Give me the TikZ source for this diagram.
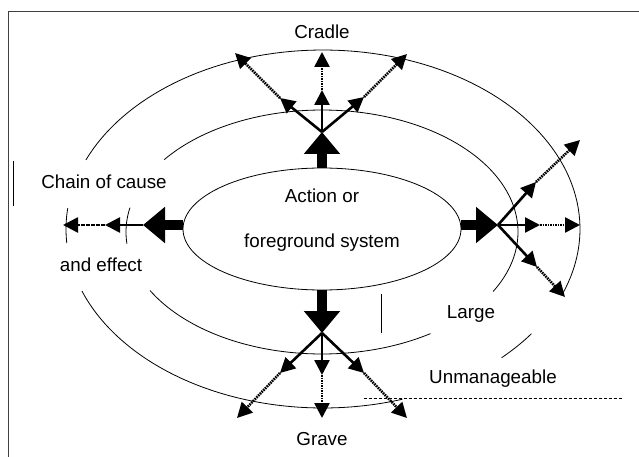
\documentclass[tikz,border=0pt]{standalone}
\usepackage{fontspec}
\setmainfont{Liberation Sans}
\usetikzlibrary{arrows.meta,shapes.geometric}
\tikzset{
  ring/.style={line width=0.8pt},
  thickarr/.style={line width=10pt,-{Triangle[length=22pt,width=35pt]}},
  solidarr/.style={line width=2.6pt,-{Triangle[length=15pt,width=15pt]}},
  dotarr/.style={line width=2.6pt,dash pattern=on 1.6pt off 0.9pt,-{Triangle[length=15pt,width=15pt]}},
  lbl/.style={font=\fontsize{18.8}{22}\selectfont,inner sep=0pt}
}
\begin{document}
\begin{tikzpicture}[x=1pt,y=-1pt]
\useasboundingbox (0,0) rectangle (639,457);
% frame
\draw[line width=1.3pt,black!75] (8.5,457) -- (8.5,11.5) -- (639,11.5);
% central ellipse
\node[ellipse,draw,line width=0.8pt,minimum width=278pt,minimum height=122pt,inner sep=0pt] (sys) at (322,229) {};
\node[lbl] (t1) at (322,196) {Action or};
\node[lbl] (t2) at (322,243) {foreground system};
% middle ring
\draw[ring] plot[domain=216.4:389.2,samples=90,variable=\t] ({322+196*cos(\t)},{232+122*sin(\t)});
\draw[ring] plot[domain=56.4:151.3,samples=60,variable=\t] ({322+196*cos(\t)},{232+122*sin(\t)});
\draw[ring] plot[domain=174.5:191.5,samples=20,variable=\t] ({322+196*cos(\t)},{232+122*sin(\t)});
% outer ring
\draw[ring] plot[domain=202.7:381.5,samples=90,variable=\t] ({323+257*cos(\t)},{229+179*sin(\t)});
\draw[ring] plot[domain=35.8:46,samples=20,variable=\t] ({323+257*cos(\t)},{229+179*sin(\t)});
\draw[ring] plot[domain=72:159.7,samples=60,variable=\t] ({323+257*cos(\t)},{229+179*sin(\t)});
\draw[ring] plot[domain=175.5:186.7,samples=20,variable=\t] ({323+257*cos(\t)},{229+179*sin(\t)});
% small marks
\draw[line width=0.8pt] (381,294) -- (381,333);
\draw[line width=0.8pt] (13,161) -- (13,206);
\draw[line width=0.6pt,dash pattern=on 3pt off 2pt] (364,398) -- (622,398);
% coordinates
\coordinate (tT) at (322,132);
\coordinate (tB) at (322,333);
\coordinate (tL) at (143,225);
\coordinate (tR) at (498,225);
\coordinate (sT) at (322,168);
\coordinate (sB) at (322,290);
\coordinate (sL) at (183,225);
\coordinate (sR) at (461,225);
% thick arrows
\draw[thickarr] (sT) -- (tT);
\draw[thickarr] (sB) -- (tB);
\draw[thickarr] (sL) -- (tL);
\draw[thickarr] (sR) -- (tR);
% top
\coordinate (u1) at (322,90);  \coordinate (u1o) at (322,52);
\coordinate (u2) at (280,98);  \coordinate (u2o) at (235,53);
\coordinate (u3) at (364,97);  \coordinate (u3o) at (407,54);
\draw[solidarr] (tT) -- (u1); \draw[dotarr] (u1) -- (u1o);
\draw[solidarr] (tT) -- (u2); \draw[dotarr] (u2) -- (u2o);
\draw[solidarr] (tT) -- (u3); \draw[dotarr] (u3) -- (u3o);
% bottom
\coordinate (d1) at (322,375); \coordinate (d1o) at (322,418);
\coordinate (d2) at (280,373); \coordinate (d2o) at (237,418);
\coordinate (d3) at (364,373); \coordinate (d3o) at (407,418);
\draw[solidarr] (tB) -- (d1); \draw[dotarr] (d1) -- (d1o);
\draw[solidarr] (tB) -- (d2); \draw[dotarr] (d2) -- (d2o);
\draw[solidarr] (tB) -- (d3); \draw[dotarr] (d3) -- (d3o);
% left
\coordinate (l1) at (105,225); \coordinate (l1o) at (63,225);
\draw[solidarr] (tL) -- (l1); \draw[dotarr] (l1) -- (l1o);
% right
\coordinate (r1) at (540,225); \coordinate (r1o) at (580,225);
\coordinate (r2) at (536,182); \coordinate (r2o) at (580,140);
\coordinate (r3) at (537,267); \coordinate (r3o) at (565,297);
\draw[solidarr] (tR) -- (r1); \draw[dotarr] (r1) -- (r1o);
\draw[solidarr] (tR) -- (r2); \draw[dotarr] (r2) -- (r2o);
\draw[solidarr] (tR) -- (r3); \draw[dotarr] (r3) -- (r3o);
% labels
\node[lbl] (cradle) at (322,32) {Cradle};
\node[lbl] (grave) at (322,439) {Grave};
\node[lbl] (chain) at (104,182) {Chain of cause};
\node[lbl] (effect) at (101,265) {and effect};
\node[lbl] (large) at (471,314) {Large};
\node[lbl] (unman) at (493,379) {Unmanageable};
\end{tikzpicture}
\end{document}
